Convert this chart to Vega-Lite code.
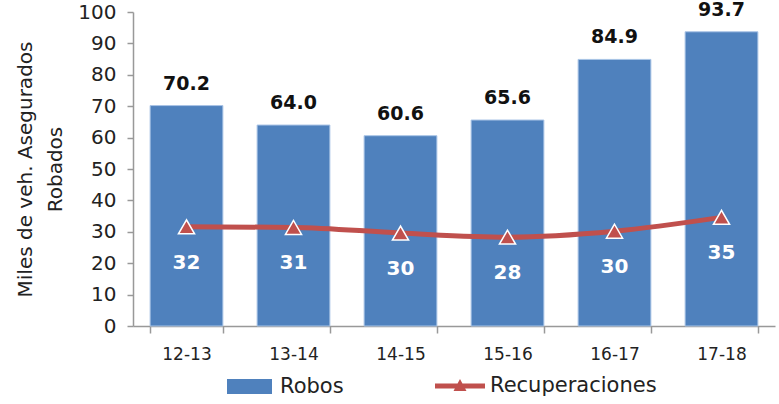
{
  "$schema": "https://vega.github.io/schema/vega-lite/v6.json",
  "autosize": "none",
  "width": 642,
  "height": 314,
  "padding": {"left": 133, "top": 12, "right": 4, "bottom": 78},
  "background": "white",
  "config": {
    "font": "DejaVu Sans",
    "view": {"stroke": null},
    "axisY": {
      "tickCount": 10,
      "labelOverlap": false,
      "labelFontSize": 20,
      "labelColor": "#222",
      "labelPadding": 11,
      "grid": false,
      "domainColor": "#999",
      "domainWidth": 1.5,
      "tickColor": "#999",
      "tickWidth": 1.5,
      "tickSize": 6
    }
  },
  "data": {
    "values": [
      {"periodo": "12-13", "robos": 70.2, "recup": 31.6},
      {"periodo": "13-14", "robos": 64.0, "recup": 31.4},
      {"periodo": "14-15", "robos": 60.6, "recup": 29.6},
      {"periodo": "15-16", "robos": 65.6, "recup": 28.3},
      {"periodo": "16-17", "robos": 84.9, "recup": 30.2},
      {"periodo": "17-18", "robos": 93.7, "recup": 34.6}
    ]
  },
  "encoding": {
    "x": {
      "field": "periodo",
      "type": "nominal",
      "sort": null,
      "scale": {"paddingInner": 0.32, "paddingOuter": 0.16},
      "axis": {
        "title": null,
        "labelAngle": 0,
        "labelFontSize": 17,
        "labelColor": "#222",
        "labelPadding": 13,
        "domainColor": "#999",
        "domainWidth": 1.5,
        "tickColor": "#999",
        "tickWidth": 1.5,
        "tickSize": 7,
        "tickBand": "extent"
      }
    }
  },
  "layer": [
    {
      "mark": {"type": "bar", "stroke": "#A9C4E6", "strokeWidth": 1},
      "encoding": {
        "y": {
          "field": "robos",
          "type": "quantitative",
          "scale": {"domain": [0, 100]},
          "axis": {
            "title": ["Miles de veh. Asegurados", "Robados"],
            "titleFontSize": 20,
            "titleFontWeight": "normal",
            "titleColor": "#222",
            "titlePadding": 12,
            "titleLineHeight": 30
          }
        },
        "fill": {
          "datum": "Robos",
          "type": "nominal",
          "scale": {"domain": ["Robos"], "range": ["#4F81BD"]},
          "legend": {
            "title": null,
            "orient": "none",
            "legendX": 94,
            "legendY": 352,
            "labelFontSize": 21,
            "labelColor": "#222",
            "labelLimit": 400,
            "symbolType": "M-1,-0.33H1V0.33H-1Z",
            "symbolSize": 2025,
            "symbolStrokeWidth": 0,
            "labelOffset": 8
          }
        }
      }
    },
    {
      "mark": {"type": "text", "dy": -22, "fontSize": 19, "fontWeight": "bold", "color": "#111"},
      "encoding": {
        "y": {"field": "robos", "type": "quantitative"},
        "text": {"field": "robos", "type": "quantitative", "format": ".1f"}
      }
    },
    {
      "mark": {"type": "line", "strokeWidth": 5, "interpolate": "monotone"},
      "encoding": {
        "y": {"field": "recup", "type": "quantitative"},
        "stroke": {
          "datum": "Recuperaciones",
          "type": "nominal",
          "scale": {"domain": ["Recuperaciones"], "range": ["#C0504D"]},
          "legend": {
            "title": null,
            "orient": "none",
            "legendX": 302,
            "legendY": 349,
            "labelFontSize": 21,
            "labelColor": "#222",
            "labelLimit": 400,
            "symbolType": "M-1,-0.1H1V0.1H-1Z M-0.26,0.2L0,-0.28L0.26,0.2Z",
            "symbolSize": 2500,
            "symbolFillColor": "#C0504D",
            "symbolStrokeColor": "#C0504D",
            "symbolStrokeWidth": 0,
            "labelOffset": 5
          }
        }
      }
    },
    {
      "mark": {"type": "point", "shape": "triangle-up", "filled": true, "size": 260, "stroke": "white", "strokeWidth": 1.5, "opacity": 1, "fill": "#C0504D"},
      "encoding": {
        "y": {"field": "recup", "type": "quantitative"}
      }
    },
    {
      "mark": {"type": "text", "dy": 36, "fontSize": 20, "fontWeight": "bold", "color": "white"},
      "encoding": {
        "y": {"field": "recup", "type": "quantitative"},
        "text": {"field": "recup", "type": "quantitative", "format": ".0f"}
      }
    }
  ]
}
